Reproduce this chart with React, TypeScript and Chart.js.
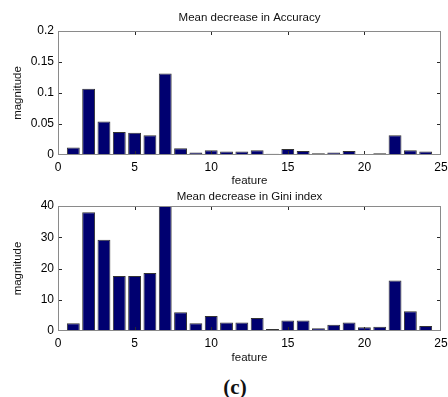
import React, { useEffect, useRef } from "react";
import { Chart, registerables } from "chart.js";

Chart.register(...registerables);

const features = [1, 2, 3, 4, 5, 6, 7, 8, 9, 10, 11, 12, 13, 14, 15, 16, 17, 18, 19, 20, 21, 22, 23, 24];
const accuracyValues = [
  0.012, 0.107, 0.054, 0.037, 0.036, 0.032, 0.1315, 0.011, 0.004, 0.0075, 0.0055, 0.0055,
  0.0075, 0.002, 0.0097, 0.0065, 0.003, 0.004, 0.0065, 0.0015, 0.003, 0.032, 0.0075, 0.0055,
];
const giniValues = [
  2.45, 38, 29.2, 17.6, 17.6, 18.6, 40.5, 6.0, 2.45, 4.8, 2.7, 2.7,
  4.2, 0.65, 3.4, 3.4, 0.85, 2.0, 2.7, 1.2, 1.4, 16.2, 6.3, 1.6,
];
const accuracyTicks = [0, 0.05, 0.1, 0.15, 0.2];
const giniTicks = [0, 10, 20, 30, 40];
const featureTicks = [0, 5, 10, 15, 20, 25];

const FONT = "'Liberation Sans', Arial, sans-serif";

const boxAndTicks = {
  id: "boxAndTicks",
  afterDatasetsDraw(chart: any) {
    const { ctx, chartArea, scales } = chart;
    const { left, right, top, bottom } = chartArea;
    ctx.save();
    ctx.lineWidth = 1;
    ctx.strokeStyle = "#2a2a2a";
    const tl = 4;
    ctx.beginPath();
    scales.x.ticks.forEach((t: any) => {
      const px = Math.round(scales.x.getPixelForValue(t.value)) + 0.5;
      if (px <= left + 1 || px >= right - 1) return;
      ctx.moveTo(px, bottom);
      ctx.lineTo(px, bottom - tl);
      ctx.moveTo(px, top);
      ctx.lineTo(px, top + tl);
    });
    scales.y.ticks.forEach((t: any) => {
      const py = Math.round(scales.y.getPixelForValue(t.value)) + 0.5;
      if (py <= top + 1 || py >= bottom - 1) return;
      ctx.moveTo(left, py);
      ctx.lineTo(left + tl, py);
      ctx.moveTo(right, py);
      ctx.lineTo(right - tl, py);
    });
    ctx.stroke();
    ctx.strokeStyle = "#8a8a8a";
    ctx.strokeRect(Math.round(left) + 0.5, Math.round(top) + 0.5, Math.round(right - left) - 1, Math.round(bottom - top) - 1);
    ctx.restore();
  },
};

type PanelProps = {
  values: number[];
  yTicks: number[];
  title: string;
  height: number;
  topH: number;
  bottomH: number;
  titlePadTop: number;
  featurePadBottom: number;
};

function Panel({ values, yTicks, title, height, topH, bottomH, titlePadTop, featurePadBottom }: PanelProps) {
  const ref = useRef<HTMLCanvasElement | null>(null);
  useEffect(() => {
    if (!ref.current) return;
    const chart = new Chart(ref.current, {
      type: "bar",
      data: {
        datasets: [
          {
            data: features.map((f, i) => ({ x: f, y: values[i] })),
            backgroundColor: "#000070",
            borderColor: "#333333",
            borderWidth: 1,
            barPercentage: 0.84,
            categoryPercentage: 1,
          },
        ],
      },
      options: {
        animation: false,
        responsive: true,
        maintainAspectRatio: false,
        devicePixelRatio: 1,
        layout: { padding: { left: 0, right: 19, top: 0, bottom: 0 } },
        plugins: { legend: { display: false }, tooltip: { enabled: false }, title: { display: false } },
        scales: {
          x: {
            type: "linear",
            position: "bottom",
            min: featureTicks[0],
            max: featureTicks[featureTicks.length - 1],
            offset: false,
            grid: { display: false, drawTicks: false },
            border: { display: false },
            afterBuildTicks: (s: any) => {
              s.ticks = featureTicks.map((v) => ({ value: v }));
            },
            ticks: {
              autoSkip: false,
              maxRotation: 0,
              padding: 5,
              color: "#000",
              font: { family: FONT, size: 12 },
              callback: (v: any) => String(v),
            },
            title: {
              display: true,
              text: "feature",
              color: "#111",
              font: { family: FONT, size: 11.5 },
              padding: { top: 0, bottom: featurePadBottom },
            },
            afterFit: (s: any) => {
              s.height = bottomH;
            },
          },
          xTop: {
            type: "linear",
            position: "top",
            min: featureTicks[0],
            max: featureTicks[featureTicks.length - 1],
            offset: false,
            grid: { display: false, drawTicks: false },
            border: { display: false },
            ticks: { display: false },
            title: {
              display: true,
              text: title,
              color: "#111",
              font: { family: FONT, size: 11.5 },
              padding: { top: titlePadTop, bottom: 0 },
            },
            afterFit: (s: any) => {
              s.height = topH;
            },
          },
          y: {
            type: "linear",
            position: "left",
            min: yTicks[0],
            max: yTicks[yTicks.length - 1],
            grid: { display: false, drawTicks: false },
            border: { display: false },
            afterBuildTicks: (s: any) => {
              s.ticks = yTicks.map((v) => ({ value: v }));
            },
            ticks: {
              padding: 4,
              color: "#000",
              font: { family: FONT, size: 12 },
              callback: (v: any) => String(+Number(v).toFixed(4)),
            },
            title: {
              display: true,
              text: "magnitude",
              color: "#111",
              font: { family: FONT, size: 11.5 },
              padding: { top: 11, bottom: 0 },
            },
            afterFit: (s: any) => {
              s.width = 58;
            },
          },
        },
      },
      plugins: [boxAndTicks],
    } as any);
    return () => chart.destroy();
  }, []);
  return (
    <div style={{ position: "relative", width: 460, height }}>
      <canvas ref={ref} />
    </div>
  );
}

export default function App() {
  return (
    <div
      style={{
        position: "absolute",
        left: 0,
        top: 0,
        width: 448,
        height: 397,
        overflow: "hidden",
        background: "#fff",
      }}
    >
      <Panel
        values={accuracyValues}
        yTicks={accuracyTicks}
        title="Mean decrease in Accuracy"
        height={188}
        topH={31}
        bottomH={33}
        titlePadTop={11.4}
        featurePadBottom={0}
      />
      <Panel
        values={giniValues}
        yTicks={giniTicks}
        title="Mean decrease in Gini index"
        height={180}
        topH={18}
        bottomH={37}
        titlePadTop={2}
        featurePadBottom={3}
      />
      <div
        style={{
          position: "absolute",
          left: 0,
          width: 470,
          top: 373,
          textAlign: "center",
          fontFamily: "'Liberation Serif', 'Times New Roman', serif",
          fontWeight: "bold",
          fontSize: 21,
          lineHeight: "28px",
          color: "#111",
        }}
      >
        (c)
      </div>
    </div>
  );
}
